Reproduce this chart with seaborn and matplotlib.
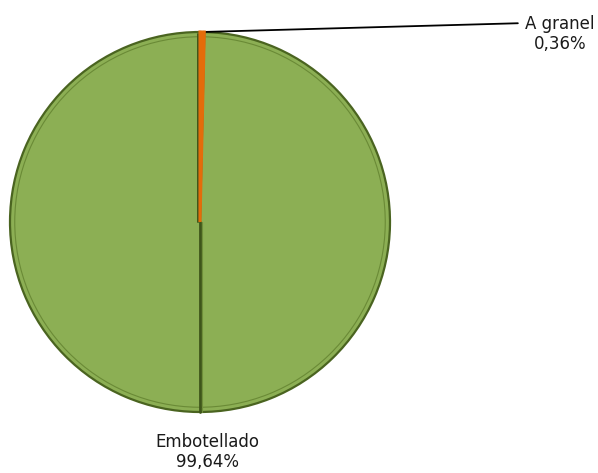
import numpy as np
import matplotlib
matplotlib.use("Agg")
import matplotlib.pyplot as plt
import seaborn as sns

# data
categories = ["A granel", "Embotellado"]
shares = [0.36, 99.64]
share_labels = ["0,36%", "99,64%"]
colors = ["#E46C0A", "#8CAF54"]

sns.set_style("white")
plt.rcParams['font.family'] = ['DejaVu Sans']

fig = plt.figure(figsize=(5.98, 4.73), dpi=100)
ax = fig.add_axes([0, 0, 1, 1])

wedges, _ = ax.pie(shares, colors=colors, startangle=90, counterclock=False,
                   radius=1.0,
                   wedgeprops=dict(edgecolor="#4A6420", linewidth=1.6))

# inner bevel ring
ax.pie(shares, colors=["none", "none"], startangle=90, counterclock=False,
       radius=0.975, wedgeprops=dict(edgecolor="#6A8A36", linewidth=0.8, fill=False))

# small slice drawn as a visible strip on top
wedges[0].set_edgecolor(colors[0])
wedges[0].set_linewidth(2.2)
wedges[0].set_zorder(4)

# px -> data: center at (200, 222) px, radius 190 px
ax.set_xlim(-200 / 190, 398 / 190)
ax.set_ylim(-251 / 190, 222 / 190)
ax.set_aspect("auto")
ax.axis("off")

# split line opposite the small slice
w0 = wedges[0]
opp = np.deg2rad(w0.theta2 + 180)
ax.plot([0, np.cos(opp)], [0, np.sin(opp)], color="#3E551A", lw=2.0, zorder=3)
ax.plot([0.012, 0.012 + np.cos(opp)], [0, np.sin(opp)], color="#6F8F3A", lw=0.8, zorder=3)
# darker seam next to the small slice
tip = np.deg2rad(w0.theta2)
ax.plot([-0.012, -0.012 + np.cos(tip)], [0, np.sin(tip) - 0.01], color="#3E551A", lw=1.4, zorder=3)

# labels
ax.annotate(f"{categories[0]}\n{share_labels[0]}",
            xy=(np.cos(tip) + 0.012, np.sin(tip)), xytext=(1.895, 0.99),
            ha="center", va="center", fontsize=12, color="#1a1a1a",
            arrowprops=dict(arrowstyle="-", color="black", lw=1.3,
                            relpos=(0, 0.78), shrinkA=3, shrinkB=0))

ax.text(0.037, -1.21, f"{categories[1]}\n{share_labels[1]}",
        ha="center", va="center", fontsize=12, color="#1a1a1a")

fig.savefig("out.png", dpi=100)
